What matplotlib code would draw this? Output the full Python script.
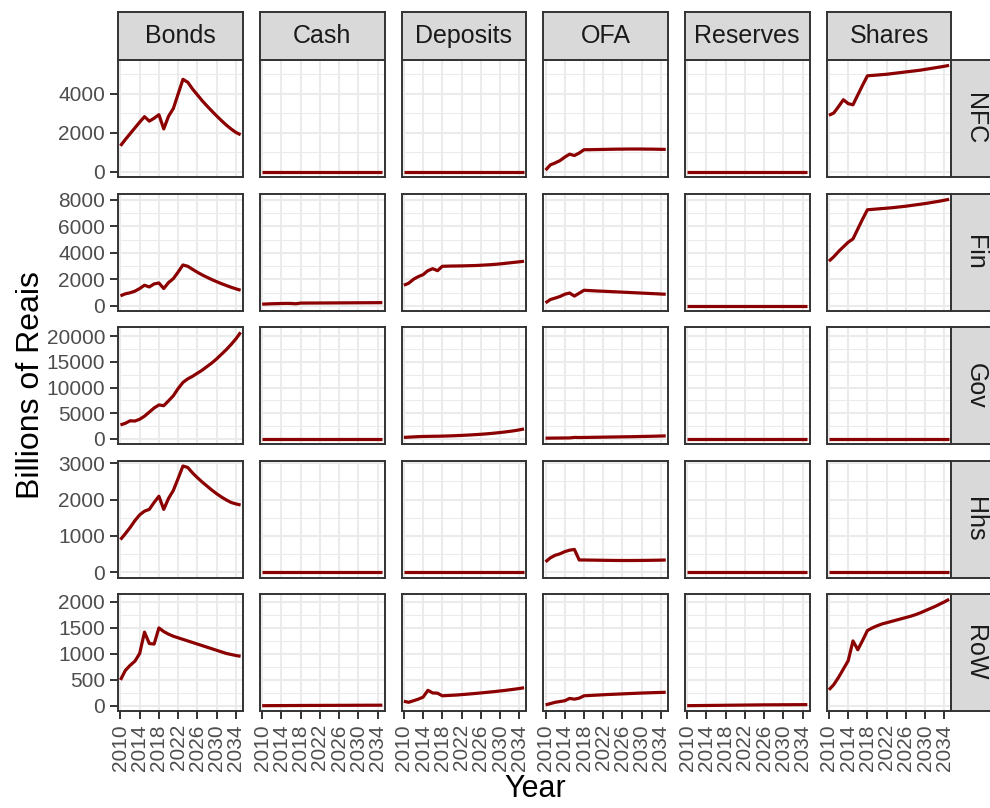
import numpy as np
import matplotlib
matplotlib.use("Agg")
import matplotlib.pyplot as plt

plt.rcParams['font.family'] = ['Liberation Sans', 'DejaVu Sans']

years = list(range(2010, 2036))
instruments = ["Bonds", "Cash", "Deposits", "OFA", "Reserves", "Shares"]
sectors = ["NFC", "Fin", "Gov", "Hhs", "RoW"]

zero = [0] * 26

nfc_bonds = [1330, 1650, 1950, 2250, 2550, 2830, 2600, 2750, 2930, 2200, 2850, 3250, 4000,
             4750, 4600, 4250, 3950, 3650, 3380, 3120, 2870, 2630, 2400, 2200, 2020, 1900]
nfc_cash = zero
nfc_deposits = zero
nfc_ofa = [80, 350, 450, 570, 750, 900, 830, 960, 1130, 1130, 1135, 1140, 1145,
           1150, 1155, 1160, 1160, 1165, 1165, 1165, 1165, 1160, 1160, 1155, 1150, 1145]
nfc_reserves = zero
nfc_shares = [2900, 3020, 3350, 3700, 3500, 3440, 3950, 4450, 4930, 4950, 4970, 4990, 5010,
              5040, 5070, 5100, 5130, 5160, 5190, 5220, 5260, 5300, 5340, 5380, 5420, 5470]

fin_bonds = [750, 900, 980, 1100, 1300, 1550, 1420, 1650, 1720, 1300, 1750, 2050, 2550,
             3080, 2980, 2750, 2530, 2330, 2150, 1980, 1820, 1670, 1530, 1400, 1280, 1170]
fin_cash = [120, 135, 150, 160, 170, 180, 175, 150, 200, 202, 204, 206, 208,
            210, 212, 214, 216, 218, 220, 222, 224, 226, 228, 230, 233, 236]
fin_deposits = [1550, 1700, 2000, 2200, 2350, 2650, 2800, 2650, 2980, 2990, 3000, 3005, 3010,
                3020, 3030, 3040, 3060, 3080, 3100, 3130, 3160, 3200, 3240, 3280, 3320, 3360]
fin_ofa = [220, 470, 580, 700, 870, 960, 730, 950, 1170, 1150, 1130, 1110, 1095,
           1080, 1060, 1045, 1025, 1010, 990, 975, 955, 940, 920, 905, 885, 870]
fin_reserves = [5, 5, 5, 5, 5, 5, 5, 5, 5, 5, 5, 5, 5,
                5, 5, 5, 5, 5, 5, 5, 5, 5, 5, 5, 5, 5]
fin_shares = [3370, 3700, 4100, 4450, 4800, 5050, 5800, 6550, 7250, 7280, 7310, 7340, 7370,
              7400, 7440, 7480, 7520, 7570, 7620, 7670, 7720, 7780, 7840, 7900, 7970, 8040]

gov_bonds = [2700, 3000, 3500, 3450, 3800, 4400, 5200, 6000, 6600, 6450, 7400, 8400, 9800,
             11000, 11700, 12200, 12800, 13400, 14100, 14800, 15600, 16500, 17400, 18400, 19500, 20800]
gov_cash = zero
gov_deposits = [250, 300, 350, 400, 430, 450, 470, 480, 500, 530, 560, 600, 640,
                690, 740, 800, 860, 930, 1010, 1100, 1200, 1310, 1430, 1560, 1720, 1900]
gov_ofa = [100, 110, 120, 130, 140, 150, 250, 230, 240, 255, 270, 285, 300,
           315, 330, 345, 360, 375, 390, 410, 430, 450, 470, 495, 520, 550]
gov_reserves = zero
gov_shares = zero

hhs_bonds = [900, 1060, 1230, 1420, 1580, 1680, 1730, 1920, 2090, 1730, 2030, 2250, 2580,
             2920, 2880, 2730, 2600, 2480, 2370, 2260, 2160, 2070, 1990, 1920, 1880, 1850]
hhs_cash = zero
hhs_deposits = zero
hhs_ofa = [290, 400, 470, 510, 570, 610, 630, 340, 340, 338, 336, 334, 332,
           330, 328, 327, 326, 326, 326, 327, 328, 330, 332, 334, 336, 340]
hhs_reserves = zero
hhs_shares = zero

row_bonds = [500, 680, 780, 860, 1010, 1420, 1200, 1190, 1500, 1430, 1380, 1340, 1310,
             1280, 1250, 1220, 1190, 1160, 1130, 1100, 1070, 1040, 1010, 990, 970, 955]
row_cash = [5, 5, 6, 6, 7, 7, 8, 8, 9, 9, 10, 10, 10,
            11, 11, 11, 12, 12, 12, 13, 13, 13, 14, 14, 14, 15]
row_deposits = [90, 70, 100, 130, 170, 300, 250, 245, 195, 200, 205, 210, 218,
                225, 233, 241, 250, 259, 268, 278, 288, 298, 310, 322, 335, 350]
row_ofa = [20, 45, 70, 85, 100, 145, 130, 150, 195, 200, 205, 210, 215,
           220, 224, 228, 232, 236, 240, 244, 248, 251, 254, 257, 260, 263]
row_reserves = [5, 6, 7, 8, 9, 10, 11, 12, 13, 14, 15, 16, 17,
                18, 19, 20, 21, 21, 22, 22, 23, 23, 24, 24, 25, 25]
row_shares = [310, 410, 550, 710, 870, 1250, 1080, 1260, 1450, 1500, 1540, 1575, 1600,
              1625, 1650, 1675, 1700, 1725, 1755, 1790, 1830, 1870, 1910, 1955, 2000, 2050]

data = {
    "NFC": [nfc_bonds, nfc_cash, nfc_deposits, nfc_ofa, nfc_reserves, nfc_shares],
    "Fin": [fin_bonds, fin_cash, fin_deposits, fin_ofa, fin_reserves, fin_shares],
    "Gov": [gov_bonds, gov_cash, gov_deposits, gov_ofa, gov_reserves, gov_shares],
    "Hhs": [hhs_bonds, hhs_cash, hhs_deposits, hhs_ofa, hhs_reserves, hhs_shares],
    "RoW": [row_bonds, row_cash, row_deposits, row_ofa, row_reserves, row_shares],
}
y_breaks = {
    "NFC": [0, 2000, 4000],
    "Fin": [0, 2000, 4000, 6000, 8000],
    "Gov": [0, 5000, 10000, 15000, 20000],
    "Hhs": [0, 1000, 2000, 3000],
    "RoW": [0, 500, 1000, 1500, 2000],
}
x_breaks = list(range(2010, 2035, 4))

W, H = 990, 808
fig = plt.figure(figsize=(W / 100, H / 100), dpi=100)

col_left = [118.3, 260.0, 401.7, 543.4, 685.0, 826.8]
pw = 124.5
row_top = [60.0, 194.0, 327.0, 460.7, 594.0]
ph = 117.0
strip_top = 11.7
strip_right_w = 48.0

border = '#333333'
gridc = '#EBEBEB'
textc = '#4D4D4D'

def fx(px):
    return px / W

def fy(py):
    return 1 - py / H

for r, sec in enumerate(sectors):
    allv = np.concatenate([np.asarray(v, float) for v in data[sec]])
    lo, hi = allv.min(), allv.max()
    rng = hi - lo
    ylim = (lo - 0.05 * rng, hi + 0.05 * rng)
    br = y_breaks[sec]
    step = br[1] - br[0]
    minors = [b + step / 2 for b in [br[0] - step] + br]
    for c, ins in enumerate(instruments):
        ax = fig.add_axes([fx(col_left[c]), fy(row_top[r] + ph), pw / W, ph / H])
        ax.set_xlim(2009.55, 2035.45)
        ax.set_ylim(*ylim)
        for m in minors:
            if ylim[0] < m < ylim[1]:
                ax.axhline(m, color=gridc, lw=0.75, zorder=0)
        for b in br:
            ax.axhline(b, color=gridc, lw=1.5, zorder=0)
        for b in x_breaks:
            ax.axvline(b, color=gridc, lw=1.5, zorder=0)
        ax.plot(years, data[sec][c], color='#8B0000', lw=2.3, zorder=3, solid_capstyle='butt')
        for s in ax.spines.values():
            s.set_color(border)
            s.set_linewidth(1.4)
            s.set_zorder(5)
        ax.set_xticks(x_breaks)
        ax.set_yticks(br)
        ax.tick_params(length=5.5, width=1.4, color=border, labelcolor=textc, labelsize=15, pad=4.0)
        if c == 0:
            ax.set_yticklabels([str(b) for b in br])
        else:
            ax.tick_params(axis='y', left=False, labelleft=False)
        if r == len(sectors) - 1:
            ax.set_xticklabels([str(b) for b in x_breaks], rotation=90)
        else:
            ax.tick_params(axis='x', bottom=False, labelbottom=False)
        if r == 0:
            sax = fig.add_axes([fx(col_left[c]), fy(row_top[0]), pw / W, (row_top[0] - strip_top) / H])
            sax.set_facecolor('#D9D9D9')
            sax.set_xticks([]); sax.set_yticks([])
            for s in sax.spines.values():
                s.set_color(border); s.set_linewidth(1.4)
            sax.text(0.5, 0.5, ins, ha='center', va='center', fontsize=18, color='#1A1A1A',
                     transform=sax.transAxes)
    rax = fig.add_axes([fx(col_left[-1] + pw), fy(row_top[r] + ph), strip_right_w / W, ph / H])
    rax.set_facecolor('#D9D9D9')
    rax.set_xticks([]); rax.set_yticks([])
    for s in rax.spines.values():
        s.set_color(border); s.set_linewidth(1.4)
    rax.text(0.5, 0.5, sec, ha='center', va='center', rotation=-90, fontsize=18,
             color='#1A1A1A', transform=rax.transAxes)

fig.text(fx((col_left[0] + col_left[-1] + pw) / 2), fy(789), "Year", ha='center', va='center',
         fontsize=22, color='black')
fig.text(fx(31), fy((row_top[0] + row_top[-1] + ph) / 2), "Billions of Reais", ha='center',
         va='center', rotation=90, fontsize=23, color='black')

fig.savefig("out.png", dpi=100)
